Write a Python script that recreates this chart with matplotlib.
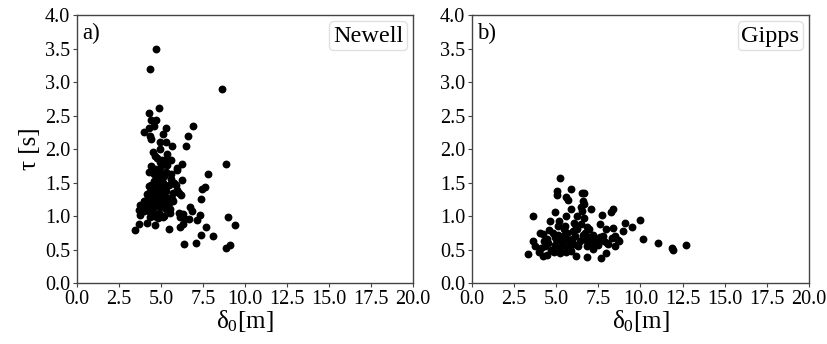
import matplotlib
matplotlib.use("Agg")
import matplotlib.pyplot as plt
from matplotlib.lines import Line2D

plt.rcParams['font.family'] = ['Liberation Serif', 'DejaVu Serif']
plt.rcParams['mathtext.fontset'] = 'custom'
plt.rcParams['mathtext.rm'] = 'Liberation Serif'
plt.rcParams['mathtext.it'] = 'Liberation Serif:italic'

# Newell model: delta_0 [m], tau [s]
newell_delta = [4.69, 4.32, 8.61, 4.87, 4.30, 4.40, 4.71, 4.59, 4.28, 5.29, 3.96, 5.11, 6.89,
                4.36, 4.40, 6.59, 5.27, 4.97, 5.66, 6.51, 4.50, 4.95, 5.35, 5.05, 5.62, 4.75,
                6.26, 8.89, 4.40, 4.55, 4.26, 5.35, 5.94, 4.91, 5.29, 7.82, 5.58, 4.75, 5.15,
                6.26, 4.59, 5.03, 4.40, 4.85, 5.50, 5.88, 7.62, 7.46, 4.26, 4.75, 5.31, 5.94,
                6.08, 6.20, 4.16, 4.51, 4.95, 5.45, 5.74, 7.39, 4.00, 4.46, 4.75, 5.15, 5.49,
                3.76, 4.16, 4.95, 5.54, 6.73, 6.85, 3.70, 3.96, 4.46, 4.91, 5.54, 6.08, 6.30,
                7.31, 3.76, 4.32, 5.11, 4.85, 6.14, 6.44, 6.69, 7.13, 9.01, 4.14, 3.72, 4.65,
                6.30, 6.14, 7.67, 9.43, 5.49, 3.43, 7.37, 8.08, 6.34, 7.07, 8.85, 9.11,
                4.60, 4.80, 5.00, 5.20, 4.40, 4.70, 4.90, 5.10, 5.30, 4.55, 4.85, 5.05, 5.25,
                4.65, 4.95, 5.15, 4.50, 4.80, 5.40, 4.20, 4.60, 5.00, 5.60, 4.30, 4.70, 5.20,
                5.80, 4.10, 4.45, 4.90, 5.35, 4.65, 5.05, 5.45, 4.35, 4.75, 5.65, 5.95,
                4.25, 4.55, 4.85, 5.15, 4.05, 4.45, 5.70, 4.60, 5.00, 5.20, 4.35, 4.90]
newell_tau = [3.50, 3.20, 2.89, 2.61, 2.54, 2.44, 2.44, 2.34, 2.32, 2.32, 2.25, 2.22, 2.35,
              2.19, 2.15, 2.19, 2.10, 2.10, 2.04, 2.04, 1.95, 2.00, 1.92, 1.84, 1.84, 1.86,
              1.78, 1.77, 1.74, 1.69, 1.66, 1.76, 1.72, 1.69, 1.65, 1.62, 1.62, 1.60, 1.59,
              1.54, 1.52, 1.52, 1.46, 1.44, 1.47, 1.46, 1.44, 1.41, 1.35, 1.39, 1.37, 1.39,
              1.34, 1.31, 1.33, 1.28, 1.29, 1.27, 1.34, 1.25, 1.22, 1.18, 1.19, 1.22, 1.19,
              1.16, 1.13, 1.13, 1.11, 1.13, 1.08, 1.09, 1.08, 1.07, 1.04, 1.04, 1.05, 1.03,
              1.02, 1.02, 0.99, 0.98, 0.97, 0.99, 0.96, 0.96, 0.94, 0.99, 0.90, 0.88, 0.87,
              0.88, 0.84, 0.84, 0.86, 0.80, 0.79, 0.72, 0.70, 0.58, 0.59, 0.53, 0.57,
              1.20, 1.25, 1.30, 1.15, 1.40, 1.45, 1.35, 1.50, 1.10, 1.05, 1.20, 1.60, 1.42,
              1.70, 1.80, 1.30, 1.12, 1.55, 1.20, 1.28, 1.00, 1.75, 1.55, 1.45, 1.25, 1.00,
              1.50, 1.18, 1.38, 1.65, 1.85, 1.90, 1.48, 1.10, 1.22, 1.58, 1.25, 1.68,
              1.24, 1.32, 1.16, 1.26, 1.14, 1.12, 1.22, 1.62, 1.40, 1.36, 1.06, 1.30]

# Gipps model: delta_0 [m], tau [s]
gipps_delta = [5.23, 5.07, 5.03, 5.88, 5.57, 5.67, 6.55, 6.67, 6.57, 6.67, 6.47, 6.51, 5.88,
               7.07, 8.35, 8.25, 3.65, 4.90, 7.70, 5.57, 6.22, 9.97, 6.67, 4.64, 9.06, 5.19,
               6.08, 7.60, 9.50, 5.10, 6.81, 8.39, 7.94, 8.94, 4.60, 5.47, 6.26, 6.95, 4.05,
               4.21, 4.78, 5.63, 7.20, 8.29, 10.17, 8.69, 3.65, 4.48, 5.23, 5.92, 6.61, 7.60,
               11.04, 7.86, 12.73, 11.90, 11.94, 3.75, 4.34, 4.94, 5.43, 6.22, 6.81, 7.50,
               8.49, 3.30, 3.95, 4.21, 4.44, 4.84, 5.57, 6.16, 6.81, 7.66, 7.94, 5.23, 5.82,
               7.20, 8.00, 8.75,
               4.50, 5.00, 5.40, 5.80, 6.10, 6.40, 6.90, 7.30, 4.70, 5.30, 5.70, 6.00, 6.60,
               7.00, 7.40, 8.10, 4.30, 5.10, 5.50, 6.30, 6.80, 7.80, 4.90, 5.60, 6.20, 7.10,
               5.90, 6.50, 4.10, 5.20, 6.00, 6.70, 7.50, 8.50]
gipps_tau = [1.57, 1.38, 1.32, 1.40, 1.29, 1.24, 1.35, 1.35, 1.22, 1.18, 1.13, 1.08, 1.11,
             1.10, 1.10, 1.06, 1.00, 1.06, 1.02, 1.00, 1.00, 0.94, 0.97, 0.92, 0.90, 0.92,
             0.90, 0.88, 0.83, 0.85, 0.84, 0.82, 0.80, 0.77, 0.79, 0.80, 0.80, 0.80, 0.75,
             0.73, 0.75, 0.75, 0.72, 0.67, 0.66, 0.64, 0.62, 0.65, 0.66, 0.65, 0.67, 0.69,
             0.60, 0.62, 0.56, 0.52, 0.50, 0.55, 0.55, 0.57, 0.56, 0.57, 0.55, 0.57,
             0.55, 0.44, 0.47, 0.41, 0.42, 0.47, 0.47, 0.41, 0.39, 0.37, 0.45, 0.52, 0.51,
             0.51, 0.60, 0.62,
             0.60, 0.65, 0.70, 0.60, 0.70, 0.62, 0.68, 0.60, 0.50, 0.62, 0.52, 0.78, 0.72,
             0.58, 0.66, 0.58, 0.62, 0.72, 0.85, 0.55, 0.63, 0.70, 0.68, 0.66, 0.85, 0.64,
             0.48, 0.88, 0.52, 0.45, 0.58, 0.74, 0.64, 0.70]

panels = [("a)", "Newell", newell_delta, newell_tau),
          ("b)", "Gipps", gipps_delta, gipps_tau)]

xticks = [0.0, 2.5, 5.0, 7.5, 10.0, 12.5, 15.0, 17.5, 20.0]
yticks = [0.0, 0.5, 1.0, 1.5, 2.0, 2.5, 3.0, 3.5, 4.0]

fig = plt.figure(figsize=(8.27, 3.44), dpi=100)
positions = [[0.0931, 0.1773, 0.4063, 0.779], [0.5707, 0.1773, 0.4075, 0.779]]

for i, (tag, name, xs, ys) in enumerate(panels):
    ax = fig.add_axes(positions[i])
    ax.scatter(xs, ys, s=32, color='black', linewidths=0, zorder=3)
    ax.set_xlim(0, 20)
    ax.set_ylim(0, 4)
    ax.set_xticks(xticks)
    ax.set_yticks(yticks)
    ax.set_xticklabels([f"{t:.1f}" for t in xticks])
    ax.set_yticklabels([f"{t:.1f}" for t in yticks])
    ax.tick_params(axis='both', labelsize=14.5, length=3, width=0.8, color='#444444', pad=2)
    for sp in ax.spines.values():
        sp.set_color('#444444')
        sp.set_linewidth(1.0)
    ax.set_xlabel(r"$\mathregular{\delta_0}$[m]", fontsize=18, labelpad=-1)
    if i == 0:
        ax.set_ylabel("τ [s]", fontsize=18, labelpad=3)
    ax.text(0.015, 0.97, tag, transform=ax.transAxes, fontsize=16.5, va='top', ha='left')
    h = Line2D([], [], linestyle='none', marker=None)
    leg = ax.legend([h], [name], loc='upper right', handlelength=0, handletextpad=0,
                    fontsize=17.5, borderpad=0.15, borderaxespad=0.25, fancybox=True)
    leg.get_frame().set_edgecolor('0.85')

fig.savefig("out.png", dpi=100)
